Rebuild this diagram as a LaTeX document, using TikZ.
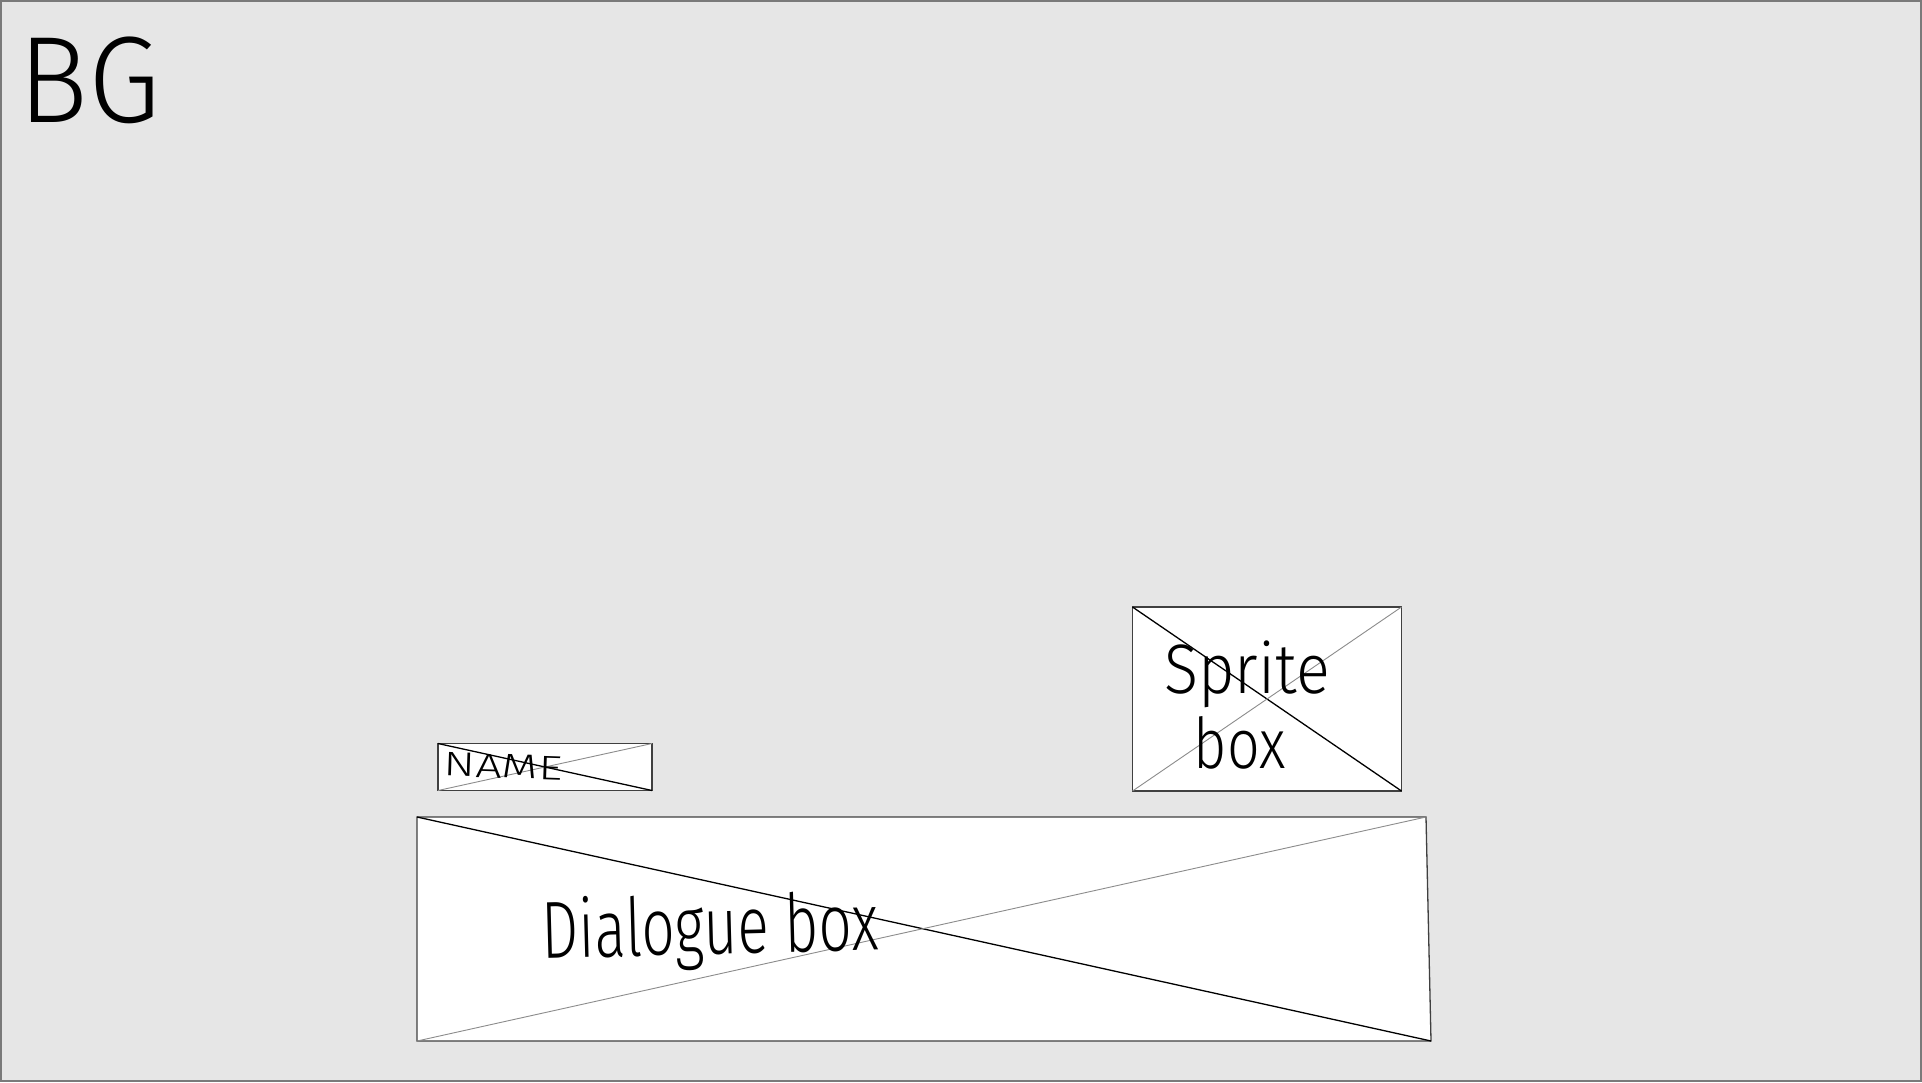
\documentclass[tikz,border=0pt]{standalone}
\usepackage{fontspec}
\usepackage{graphicx}
\newfontfamily\scrawlfont{Fira Sans Light}
\definecolor{bggray}{HTML}{E6E6E6}
\definecolor{edgegray}{HTML}{7A7A7A}
\definecolor{boxgray}{HTML}{404040}
\definecolor{crossgray}{HTML}{8C8C8C}

\tikzstyle{every node}=[inner sep=0pt, outer sep=0pt]
\tikzstyle{placeholder}=[draw=boxgray, fill=white, line width=1.3pt]
\tikzstyle{cross}=[black, line width=1.3pt]
\tikzstyle{crosslight}=[crossgray, line width=0.9pt]
\tikzstyle{scrawl}=[font=\scrawlfont, text=black, anchor=base]

% size, horizontal squeeze, text
\newcommand{\hand}[3]{{\fontsize{#1}{#1}\selectfont\scalebox{#2}[1]{#3}}}

\begin{document}
\begin{tikzpicture}[x=1pt, y=-1pt]
    \useasboundingbox (0,0) rectangle (1922,1082);
    \draw [edgegray, fill=bggray, line width=2pt] (1,1) rectangle (1921,1081);

    % boxes
    \node [placeholder, minimum width=214, minimum height=47] (namebox) at (545,767) {};
    \node [placeholder, minimum width=269, minimum height=184] (spritebox) at (1267,699) {};
    \coordinate (dlgtl) at (417,817);
    \coordinate (dlgtr) at (1426,817);
    \coordinate (dlgbr) at (1431,1041);
    \coordinate (dlgbl) at (417,1041);
    \draw [placeholder] (dlgtl) -- (dlgtr) -- (dlgbr) -- (dlgbl) -- cycle;

    % crosses
    \draw [cross] (namebox.north west) -- (namebox.south east);
    \draw [crosslight] (namebox.south west) -- (namebox.north east);
    \draw [cross] (spritebox.north west) -- (spritebox.south east);
    \draw [crosslight] (spritebox.south west) -- (spritebox.north east);
    \draw [cross] (dlgtl) -- (dlgbr);
    \draw [crosslight] (dlgbl) -- (dlgtr);

    % labels
    \node [scrawl] (bglabel) at (90,122) {\hand{123}{0.95}{BG}};
    \node [scrawl, rotate=-2] (namelabel) at (503,778) {\hand{34}{1.38}{NAME}};
    \node [scrawl] (spritelabel) at (1247,693) {\hand{70}{0.9}{Sprite}};
    \node [scrawl] (boxlabel) at (1240,768) {\hand{70}{0.82}{box}};
    \node [scrawl, rotate=1.5] (dlglabel) at (711,954) {\hand{81}{0.72}{Dialogue box}};
\end{tikzpicture}
\end{document}
